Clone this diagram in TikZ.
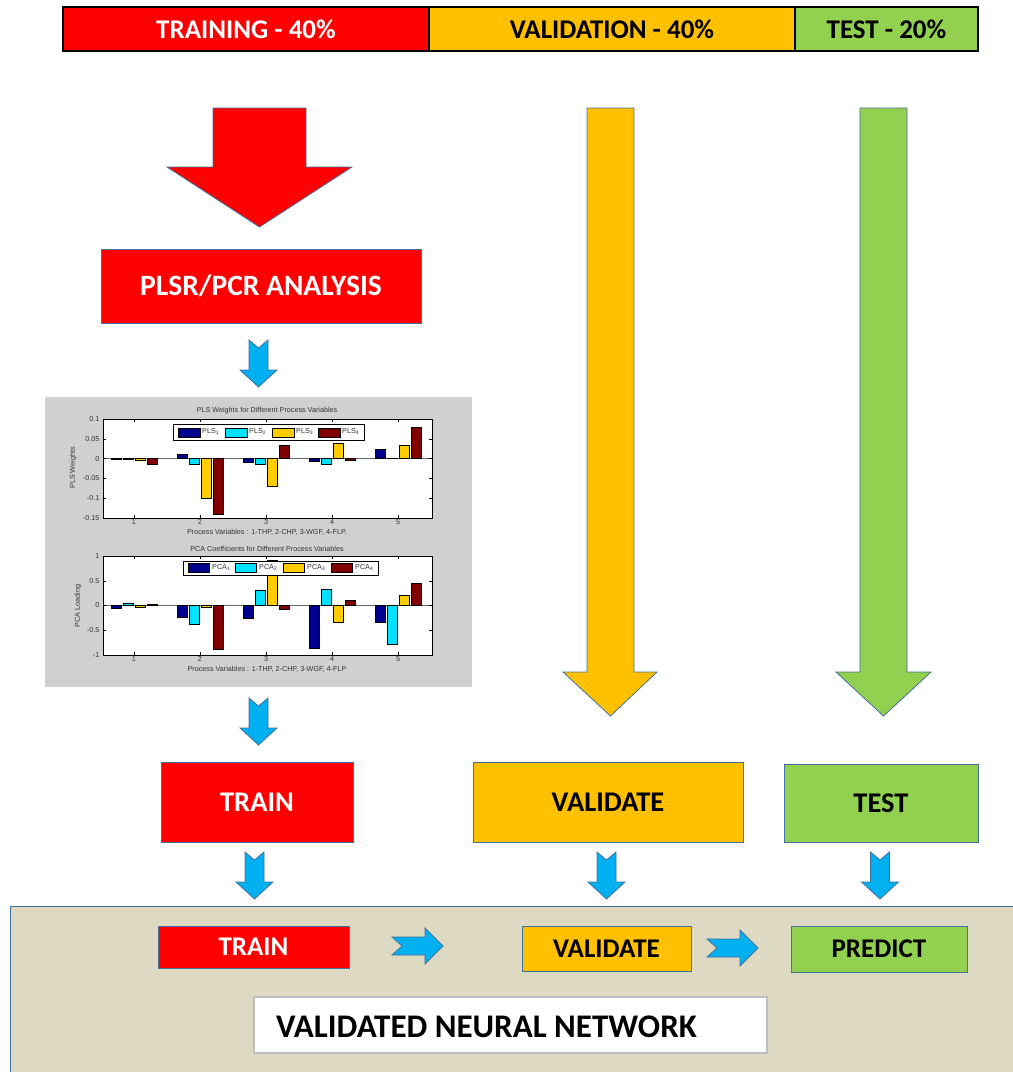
\documentclass[tikz,border=0pt]{standalone}
\usepackage{fontspec}
\setmainfont{Carlito}
\newfontfamily\plotfont{Liberation Sans}
\usetikzlibrary{calc}

\definecolor{trainred}{HTML}{FF0000}
\definecolor{valyellow}{HTML}{FFC000}
\definecolor{testgreen}{HTML}{92D050}
\definecolor{panelbeige}{HTML}{DDD9C3}
\definecolor{chevblue}{HTML}{00B0F0}
\definecolor{edgeblue}{HTML}{41719C}
\definecolor{chartgray}{RGB}{208,208,208}
\definecolor{barA}{HTML}{00008F}
\definecolor{barB}{HTML}{00E1FF}
\definecolor{barC}{HTML}{FFCC00}
\definecolor{barD}{HTML}{800000}

\tikzset{
  splitbox/.style={draw=black, line width=1.2pt, minimum height=44pt, inner sep=0pt,
    font=\fontsize{27}{30}\selectfont\bfseries},
  stagebox/.style={draw=edgeblue, line width=0.8pt, inner sep=0pt,
    font=\fontsize{28.5}{31}\selectfont\bfseries},
  smallstage/.style={stagebox, font=\fontsize{27}{30}\selectfont\bfseries},
  bigarrow/.style={draw=edgeblue, line width=0.8pt, line join=miter},
  pics/downchev/.style={code={
    \filldraw[fill=chevblue, draw=edgeblue, line width=0.8pt]
      (-9.5,0) -- (0,8) -- (9.5,0) -- (9.5,30) -- (18.5,30) -- (0,47)
      -- (-18.5,30) -- (-9.5,30) -- cycle;}},
  pics/rightchev/.style={code={
    \filldraw[fill=chevblue, draw=edgeblue, line width=0.8pt]
      (0,-9) -- (10,0) -- (0,9) -- (33,9) -- (33,18) -- (51,0)
      -- (33,-18) -- (33,-9) -- cycle;}},
  plottext/.style={font=\plotfont\fontsize{7.2}{8}\selectfont, inner sep=0.5pt, text=black!80},
  axisline/.style={draw=black, line width=0.45pt},
  baredge/.style={draw=black, line width=0.35pt},
}

\begin{document}
\begin{tikzpicture}[x=1pt, y=-1pt]
\useasboundingbox (0,0) rectangle (1013,1072);

% ---- data split bar ----
\node[splitbox, fill=trainred, text=white, minimum width=366pt] (splittrain) at (246,29) {TRAINING - 40\%};
\node[splitbox, fill=valyellow, minimum width=366pt] (splitval) at (612,29) {VALIDATION - 40\%};
\node[splitbox, fill=testgreen, minimum width=183pt] (splittest) at (886.5,29) {TEST - 20\%};

% ---- large block arrows ----
\filldraw[bigarrow, fill=trainred]
  (213,108) -- (306,108) -- (306,167) -- (352,167) -- (259.5,227) -- (167,167) -- (213,167) -- cycle;
\filldraw[bigarrow, fill=valyellow]
  (587,108) -- (634,108) -- (634,672) -- (657,672) -- (610.5,716) -- (563,672) -- (587,672) -- cycle;
\filldraw[bigarrow, fill=testgreen]
  (860,108) -- (907,108) -- (907,672) -- (931,672) -- (883.5,716) -- (836,672) -- (860,672) -- cycle;

% ---- analysis box ----
\node[stagebox, fill=trainred, text=white, minimum width=320pt, minimum height=74pt,
      font=\fontsize{29.5}{32}\selectfont\bfseries] (plsr) at (261,286) {PLSR/PCR ANALYSIS};
\pic at (258.5,340) {downchev};

% ---- chart panel ----
\node[fill=chartgray, minimum width=427pt, minimum height=290pt, inner sep=0pt] (chart) at (258.5,542) {};

% PLS weights plot
\fill[white] (103,419) rectangle (432,518);
\begin{scope}[shift={(68,458.6)}, x=66pt, y=396pt]
  \draw[black!60, line width=0.4pt] (0.53,0) -- (5.52,0);
  \foreach \g/\a/\b/\c/\d in {1/-0.001/-0.002/-0.004/-0.014, 2/0.01/-0.015/-0.1/-0.14,
      3/-0.008/-0.015/-0.069/0.035, 4/-0.006/-0.013/0.039/-0.003, 5/0.025/0.002/0.035/0.08}{
    \filldraw[baredge, fill=barA] (\g-0.345,0) rectangle (\g-0.195,\a);
    \filldraw[baredge, fill=barB] (\g-0.165,0) rectangle (\g-0.015,\b);
    \filldraw[baredge, fill=barC] (\g+0.015,0) rectangle (\g+0.165,\c);
    \filldraw[baredge, fill=barD] (\g+0.195,0) rectangle (\g+0.345,\d);
  }
  \draw[axisline] (0.53,-0.15) rectangle (5.52,0.1);
  \foreach \v/\t in {0.1/0.1, 0.05/0.05, 0/0, -0.05/-0.05, -0.1/-0.1, -0.15/-0.15}{
    \draw[axisline] (0.53,\v) -- ++(3pt,0);
    \draw[axisline] (5.52,\v) -- ++(-3pt,0);
    \node[plottext, anchor=east, xshift=-3pt] at (0.53,\v) {\t};
  }
  \foreach \g in {1,...,5}{
    \draw[axisline] (\g,-0.15) -- ++(0,3pt);
    \draw[axisline] (\g,0.1) -- ++(0,-3pt);
    \node[plottext, anchor=north, yshift=-1pt] at (\g,-0.15) {\g};
  }
\end{scope}
\node[plottext] (plstitle) at (267,411) {PLS Weights for Different Process Variables};
\node[plottext, rotate=90] (plsylab) at (73,468) {PLS Weights};
\node[plottext] (plsxlab) at (267,532) {Process Variables : 1-THP, 2-CHP, 3-WGF, 4-FLP,};
\filldraw[fill=white, draw=black, line width=0.4pt] (173,424) rectangle (364,440);
\foreach \sx/\tx/\col/\k in {178/202/barA/1, 225/249/barB/2, 272/296/barC/3, 318/342/barD/4}{
  \filldraw[baredge, fill=\col] (\sx,428) rectangle (\sx+22,437);
  \node[plottext, anchor=west, inner sep=0pt] at (\tx,431.5) {PLS\textsubscript{\k}};
}

% PCA coefficients plot
\fill[white] (103,556) rectangle (432,655);
\begin{scope}[shift={(68,605.5)}, x=66pt, y=49.5pt]
  \draw[black!60, line width=0.4pt] (0.53,0) -- (5.52,0);
  \foreach \g/\a/\b/\c/\d in {1/-0.054/0.047/-0.03/0.027, 2/-0.24/-0.376/-0.03/-0.88,
      3/-0.26/0.31/0.92/-0.074, 4/-0.86/0.34/-0.34/0.107, 5/-0.34/-0.79/0.215/0.46}{
    \filldraw[baredge, fill=barA] (\g-0.345,0) rectangle (\g-0.195,\a);
    \filldraw[baredge, fill=barB] (\g-0.165,0) rectangle (\g-0.015,\b);
    \filldraw[baredge, fill=barC] (\g+0.015,0) rectangle (\g+0.165,\c);
    \filldraw[baredge, fill=barD] (\g+0.195,0) rectangle (\g+0.345,\d);
  }
  \draw[axisline] (0.53,-1) rectangle (5.52,1);
  \foreach \v/\t in {1/1, 0.5/0.5, 0/0, -0.5/-0.5, -1/-1}{
    \draw[axisline] (0.53,\v) -- ++(3pt,0);
    \draw[axisline] (5.52,\v) -- ++(-3pt,0);
    \node[plottext, anchor=east, xshift=-3pt] at (0.53,\v) {\t};
  }
  \foreach \g in {1,...,5}{
    \draw[axisline] (\g,-1) -- ++(0,3pt);
    \draw[axisline] (\g,1) -- ++(0,-3pt);
    \node[plottext, anchor=north, yshift=-1pt] at (\g,-1) {\g};
  }
\end{scope}
\node[plottext] (pcatitle) at (267,549) {PCA Coefficients for Different Process Variables};
\node[plottext, rotate=90] (pcaylab) at (78,606) {PCA Loading};
\node[plottext] (pcaxlab) at (267,669) {Process Variables : 1-THP, 2-CHP, 3-WGF, 4-FLP};
\filldraw[fill=white, draw=black, line width=0.4pt] (183,561) rectangle (378,575);
\foreach \sx/\tx/\col/\k in {188/212/barA/1, 235/259/barB/2, 283/307/barC/3, 331/355/barD/4}{
  \filldraw[baredge, fill=\col] (\sx,563.5) rectangle (\sx+21,572.5);
  \node[plottext, anchor=west, inner sep=0pt] at (\tx,567.5) {PCA\textsubscript{\k}};
}

\pic at (258.5,698) {downchev};

% ---- stage boxes ----
\node[stagebox, fill=trainred, text=white, minimum width=192pt, minimum height=80pt] (train) at (257,802) {TRAIN};
\node[stagebox, fill=valyellow, minimum width=270pt, minimum height=80pt] (validate) at (608,802) {VALIDATE};
\node[stagebox, fill=testgreen, minimum width=194pt, minimum height=78pt] (test) at (881,803) {TEST};

\pic at (254.5,852) {downchev};
\pic at (606.5,852) {downchev};
\pic at (880,852) {downchev};

% ---- network panel ----
\filldraw[fill=panelbeige, draw=edgeblue, line width=0.8pt] (10,906) rectangle (1030,1090);
\node[smallstage, fill=trainred, text=white, minimum width=191pt, minimum height=42pt] (ntrain) at (253.5,947) {TRAIN};
\node[smallstage, fill=valyellow, minimum width=169pt, minimum height=45pt] (nvalidate) at (606.5,948.5) {VALIDATE};
\node[smallstage, fill=testgreen, minimum width=176pt, minimum height=46pt] (npredict) at (879,949) {PREDICT};
\pic at (392,946) {rightchev};
\pic at (707,948) {rightchev};
\node[draw=black!25, line width=1.2pt, fill=white, minimum width=513pt, minimum height=56pt, inner sep=0pt] (nnbox) at (510.5,1025) {};
\node[anchor=west, inner sep=0pt, font=\fontsize{33}{36}\selectfont\bfseries] (nntext) at (276,1027) {VALIDATED NEURAL NETWORK};
\end{tikzpicture}
\end{document}
